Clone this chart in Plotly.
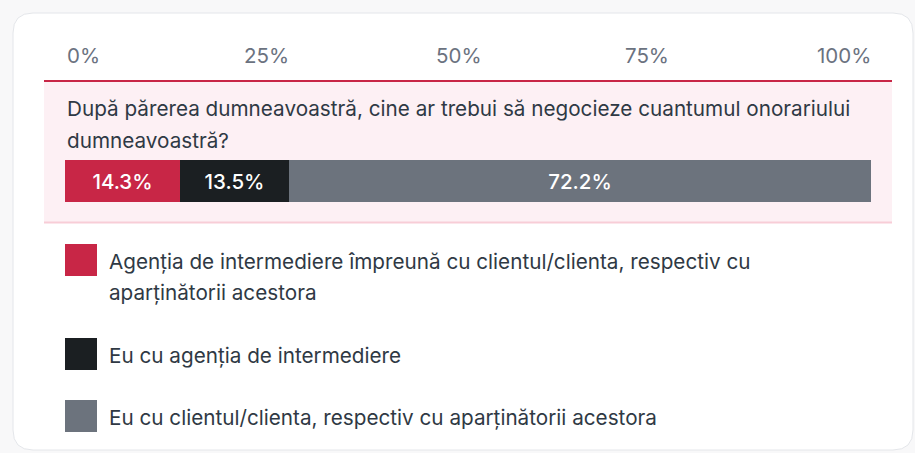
import plotly.graph_objects as go

# ---- data ----
question_lines = [
    "După părerea dumneavoastră, cine ar trebui să negocieze cuantumul onorariului",
    "dumneavoastră?",
]
categories = [
    "Agenția de intermediere împreună cu clientul/clienta, respectiv cu\naparținătorii acestora",
    "Eu cu agenția de intermediere",
    "Eu cu clientul/clienta, respectiv cu aparținătorii acestora",
]
values = [14.3, 13.5, 72.2]
colors = ["#c82646", "#1b1f22", "#6c737d"]
tick_values = [0, 25, 50, 75, 100]
tick_labels = ["0%", "25%", "50%", "75%", "100%"]

# ---- layout geometry (pixels) ----
W, H = 915, 453
L, R = 65, 871      # bar / axis extent
T, B = 160, 202     # bar vertical extent
FONT = "Inter, 'Noto Sans', sans-serif"
TEXT = "#2f3944"


def px(x):
    return (x - L) / (R - L)


def py(y):
    return (B - y) / (B - T)


fig = go.Figure()
for name, v, c in zip(categories, values, colors):
    fig.add_trace(go.Bar(
        x=[v], y=["q"], orientation="h", name=name.replace("\n", " "),
        marker=dict(color=c, line=dict(width=0)),
        texttemplate="%{x:.1f}%", textposition="inside",
        insidetextanchor="middle", textangle=0, constraintext="none",
        textfont=dict(family=FONT, size=20.5, color="white", weight=500),
        hoverinfo="skip", showlegend=False,
    ))

shapes = []
annotations = []

# card
cl, ct, cr, cb, rad = 13, 13, 913, 450, 20
path = (f"M {px(cl+rad)},{py(ct)} L {px(cr-rad)},{py(ct)} Q {px(cr)},{py(ct)} {px(cr)},{py(ct+rad)} "
        f"L {px(cr)},{py(cb-rad)} Q {px(cr)},{py(cb)} {px(cr-rad)},{py(cb)} "
        f"L {px(cl+rad)},{py(cb)} Q {px(cl)},{py(cb)} {px(cl)},{py(cb-rad)} "
        f"L {px(cl)},{py(ct+rad)} Q {px(cl)},{py(ct)} {px(cl+rad)},{py(ct)} Z")
shapes.append(dict(type="path", xref="paper", yref="paper", path=path,
                   fillcolor="white", line=dict(color="#e4e6ea", width=1), layer="below"))

# pink question band
shapes.append(dict(type="rect", xref="paper", yref="paper",
                   x0=px(44), x1=px(892), y0=py(222), y1=py(81),
                   fillcolor="#fdf0f4", line=dict(width=0), layer="below"))
shapes.append(dict(type="line", xref="paper", yref="paper",
                   x0=px(44), x1=px(892), y0=py(81), y1=py(81),
                   line=dict(color="#c82646", width=2), layer="below"))
shapes.append(dict(type="line", xref="paper", yref="paper",
                   x0=px(44), x1=px(892), y0=py(222.5), y1=py(222.5),
                   line=dict(color="#f8cdd7", width=2), layer="below"))

# top tick labels (space-between layout)
tick_shift = [0, 0, -9, -23, 2]
for i, (tv, tl) in enumerate(zip(tick_values, tick_labels)):
    anchor = "left" if i == 0 else ("right" if i == len(tick_values) - 1 else "center")
    annotations.append(dict(x=tv, xref="x", y=py(55), yref="paper", text=tl,
                            showarrow=False, xanchor=anchor, yanchor="middle",
                            xshift=tick_shift[i],
                            font=dict(family=FONT, size=20.5, color="#6b7280")))

# question text
for j, line in enumerate(question_lines):
    annotations.append(dict(x=px(L), xref="paper", y=py(108 + 32 * j), yref="paper",
                            text=line, showarrow=False, xanchor="left", yanchor="middle",
                            font=dict(family=FONT, size=20.7, color=TEXT)))

# legend
leg_top = [244, 338, 400]
for k, (name, c) in enumerate(zip(categories, colors)):
    y0 = leg_top[k]
    shapes.append(dict(type="rect", xref="paper", yref="paper",
                       x0=px(65), x1=px(97), y0=py(y0 + 32), y1=py(y0),
                       fillcolor=c, line=dict(width=0)))
    for j, line in enumerate(name.split("\n")):
        annotations.append(dict(x=px(107), xref="paper", y=py(y0 + 17 + 31 * j), yref="paper",
                                text=line, showarrow=False, xanchor="left", yanchor="middle",
                                font=dict(family=FONT, size=20.7, color=TEXT)))

fig.update_layout(
    width=W, height=H, barmode="stack", bargap=0,
    margin=dict(l=L, r=W - R, t=T, b=H - B, pad=0),
    paper_bgcolor="#f8f8f9", plot_bgcolor="rgba(0,0,0,0)",
    xaxis=dict(range=[0, 100], visible=False, fixedrange=True),
    yaxis=dict(visible=False, fixedrange=True),
    shapes=shapes, annotations=annotations, showlegend=False,
    font=dict(family=FONT),
)

fig.write_html(
    "out.html",
    config={"displayModeBar": False},
    post_script="document.body.style.margin='0';document.body.style.background='#f8f8f9';",
)
